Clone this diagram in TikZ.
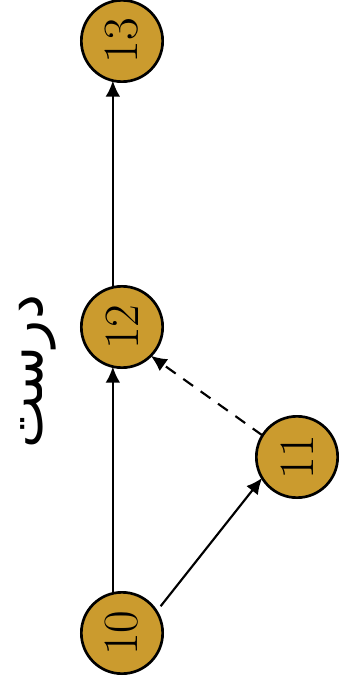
\documentclass[tikz,border=0pt]{standalone}
\usepackage{fontspec}
\usepackage{xcolor}
\usepackage{tikz}
\usetikzlibrary{arrows.meta}
\TeXXeTstate=1
\newfontfamily\arabicfont[Script=Arabic]{DejaVu Sans}
\definecolor{gold}{RGB}{203,155,46}

\begin{document}
\begin{tikzpicture}[x=0.75pt,y=-0.75pt,
    vertex/.style={circle,draw=black,fill=gold,line width=2pt,minimum size=61pt,
                   inner sep=0pt,outer sep=0pt,font=\fontsize{37}{40}\selectfont},
    link/.style={-{Latex[length=12pt,width=11pt]},line width=1.6pt}]
\useasboundingbox (0,0) rectangle (339,684);
\node[vertex] (n13) at (122,41) {\rotatebox{90}{13}};
\node[vertex] (n12) at (122,327) {\rotatebox{90}{12}};
\node[vertex] (n11) at (297,457) {\rotatebox{90}{11}};
\node[vertex] (n10) at (122,633) {\rotatebox{90}{10}};
\node[inner sep=0pt,font=\arabicfont\fontsize{42}{44}\selectfont] (word) at (38,372) {\rotatebox{90}{\beginR درست\endR}};
% the arrows leave the circles a little off centre
\draw[link] (n10.103) -- (n12.257);
\draw[link] (n12.103) -- (n13.257);
\draw[link,shorten <=5pt] (n10.32) -- (n11.211);
\draw[link,dash pattern=on 9pt off 7pt] (n11.148) -- (n12.315);
\end{tikzpicture}
\end{document}
